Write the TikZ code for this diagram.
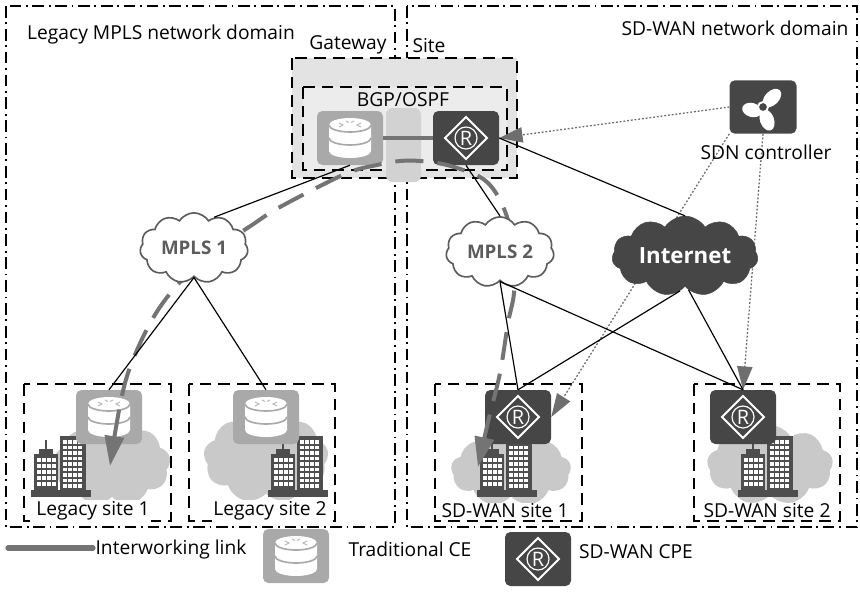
\documentclass[tikz,border=0pt]{standalone}
\usepackage{fontspec}
\setmainfont{Open Sans}
\usetikzlibrary{arrows.meta,shapes.symbols}

\definecolor{cegray}{HTML}{A9A9A9}
\definecolor{cpedark}{HTML}{464646}
\definecolor{linkgray}{HTML}{747474}
\definecolor{sitecloud}{HTML}{C9C9C9}
\definecolor{bldg}{HTML}{4E4E4E}
\definecolor{gwfill}{HTML}{E3E3E3}
\definecolor{gwinner}{HTML}{ECECEC}
\definecolor{mplsline}{HTML}{5C5C5C}
\definecolor{ctrlgray}{HTML}{6E6E6E}

\tikzset{
  % pixel grid: 1 unit = 0.3mm, y grows downwards
  lbl/.style={font=\fontsize{16.4}{19}\selectfont, inner sep=0pt},
  netdomain/.style={draw, line width=1pt, dash pattern=on 10pt off 4pt on 1.5pt off 4pt},
  sitebox/.style={draw, line width=1.1pt, dash pattern=on 10pt off 6pt},
  cebox/.style={fill=cegray, rounded corners=1.6mm, minimum width=19.8mm, minimum height=16.2mm, inner sep=0pt},
  cpebox/.style={fill=cpedark, rounded corners=1.6mm, minimum width=19.8mm, minimum height=16.2mm, inner sep=0pt},
  mpls/.style={cloud, cloud puffs=11, cloud puff arc=115, aspect=1.6, draw=mplsline, line width=1.4pt, fill=white,
    text=mplsline, font=\fontsize{16}{19}\selectfont\bfseries, minimum width=32.4mm, minimum height=20mm, inner sep=0pt},
  inet/.style={cloud, cloud puffs=11, cloud puff arc=115, aspect=2.1, draw=cpedark, fill=cpedark,
    text=white, font=\fontsize{19}{22}\selectfont\bfseries, minimum width=43.8mm, minimum height=20.4mm, inner sep=0pt},
  sitecl/.style={cloud, cloud puffs=9, cloud puff arc=120, fill=sitecloud, inner sep=0pt},
  link/.style={line width=1pt},
  ctrl/.style={draw=ctrlgray, line width=1.1pt, dash pattern=on 1.6pt off 1.6pt, -{Triangle[length=7mm,width=4.6mm]}},
  interwork/.style={draw=linkgray, line width=3.4pt, dash pattern=on 24pt off 12pt,
    {Triangle[length=9mm,width=5.7mm]}-{Triangle[length=9mm,width=5.7mm]}},
  ceglyph/.pic={
    \fill[white] (-21,-13) -- (-21,13) arc[start angle=180, end angle=0, x radius=21, y radius=7]
      -- (21,-13) arc[start angle=0, end angle=-180, x radius=21, y radius=7] -- cycle;
    \draw[cegray, line width=1.4pt] (-21,-13) arc[start angle=180, end angle=0, x radius=21, y radius=7];
    \draw[cegray, line width=1.4pt] (-21,0) arc[start angle=180, end angle=0, x radius=21, y radius=7];
    \draw[cegray!80, line width=0.8pt] (-11,-15) -- (-7,-13) -- (-11,-11) (11,-15) -- (7,-13) -- (11,-11)
      (-4,-17) -- (-1,-15.5) (4,-17) -- (1,-15.5);
  },
  cpeglyph/.pic={
    \draw[white, line width=1.6pt] (0,-21) -- (21,0) -- (0,21) -- (-21,0) -- cycle;
    \draw[white, line width=1pt] (0,0) circle[radius=11];
    \node[white, font=\fontsize{17}{17}\selectfont, inner sep=0pt] at (0,0.5) {R};
  },
  sdnglyph/.pic={
    \fill[white, rotate around={45:(9,-9)}] (9,-9) ellipse[x radius=11, y radius=7];
    \fill[white, rotate around={-15:(-11,3)}] (-11,3) ellipse[x radius=10, y radius=7];
    \fill[white, rotate around={-70:(4,13)}] (4,13) ellipse[x radius=11, y radius=7];
    \filldraw[fill=cpedark, draw=white, line width=1.6pt] (0,0) circle[radius=5];
  },
  towers/.pic={
    \fill[bldg] (-30,0) rectangle (30,7);
    \fill[bldg] (-27,0) rectangle (-3,-36);
    \fill[bldg] (-22,-36) rectangle (-8,-41);
    \fill[bldg] (-16,-41) rectangle (-14,-50);
    \fill[bldg] (-1,0) rectangle (25,-54);
    \foreach \x in {-24,-19,-14,-9}
      \foreach \y in {-32,-26,-20,-14,-8}
        \fill[white] (\x,\y) rectangle ++(3.5,3.5);
    \foreach \x in {2,7,12,17}
      \foreach \y in {-50,-44.5,...,-6}
        \fill[white] (\x,\y) rectangle ++(3.5,3.5);
  }
}

\begin{document}
\begin{tikzpicture}[x=0.3mm, y=-0.3mm]
\useasboundingbox (0,0) rectangle (860,608);

% network domains
\draw[netdomain] (6,6) rectangle (395,527);
\draw[netdomain] (407,6) rectangle (857,527);
\node[lbl] (legdom) at (161,35) {Legacy MPLS network domain};
\node[lbl] (sddom) at (735,28) {SD-WAN network domain};

% gateway site
\fill[gwfill] (292,58) rectangle (517,178);
\draw[sitebox] (292,58) rectangle (517,178);
\fill[gwinner] (303,87) rectangle (507,170);
\draw[sitebox] (303,87) rectangle (507,170);
\fill[gray!35, rounded corners=2mm] (386,108) rectangle (421,182);
\node[lbl] (gwlbl) at (348,45) {Gateway};
\node[lbl] (sitelbl) at (429,46) {Site};
\node[lbl] (bgp) at (403,100) {BGP/OSPF};
\node[cebox] (gwce) at (350,138) {};
\pic at (gwce) {ceglyph};
\node[cpebox] (gwcpe) at (466,138) {};
\pic at (gwcpe) {cpeglyph};
\draw[line width=3.4pt, linkgray] (gwce.east) -- (gwcpe.west);

% sites
\draw[sitebox] (24,384) rectangle (171,521);
\draw[sitebox] (189,384) rectangle (335,521);
\draw[sitebox] (435,384) rectangle (582,521);
\draw[sitebox] (694,384) rectangle (840,521);
\node[sitecl, minimum width=35.1mm, minimum height=25mm] (cl1) at (112,464) {};
\node[sitecl, minimum width=37.5mm, minimum height=27mm] (cl2) at (266,458) {};
\node[sitecl, minimum width=36mm, minimum height=21.6mm] (cl3) at (511,470) {};
\node[sitecl, minimum width=37.8mm, minimum height=24mm] (cl4) at (770,465) {};
\pic at (61,490) {towers};
\pic at (298,490) {towers};
\pic at (507,490) {towers};
\pic at (768,490) {towers};
\node[cebox] (ce1) at (109,417) {};
\pic at (ce1) {ceglyph};
\node[cebox] (ce2) at (266,417) {};
\pic at (ce2) {ceglyph};
\node[cpebox] (cpe1) at (518,417) {};
\pic at (cpe1) {cpeglyph};
\node[cpebox] (cpe2) at (743,417) {};
\pic at (cpe2) {cpeglyph};
\node[lbl, fill=white, inner sep=1pt] (s1) at (93,511) {Legacy site 1};
\node[lbl, fill=white, inner sep=1pt] (s2) at (270,511) {Legacy site 2};
\node[lbl, fill=white, inner sep=1pt] (s3) at (505,511) {SD-WAN site 1};
\node[lbl, fill=white, inner sep=1pt] (s4) at (767,511) {SD-WAN site 2};

% controller
\node[cpebox, minimum width=20.1mm, minimum height=16mm] (sdn) at (763,107) {};
\pic at (sdn) {sdnglyph};
\draw[ctrl] (sdn.west) -- (gwcpe.east);
\draw[ctrl] (sdn.south west) -- (cpe1.east);
\draw[ctrl] (sdn.south) -- (cpe2.north);
\node[lbl] (sdnlbl) at (766,152) {SDN controller};

% interworking path
\draw[interwork] plot[smooth, tension=0.55] coordinates {(110,466) (119,410) (128,373) (143,337) (160,307)
  (182,280) (215,250) (252,225) (280,207) (345,174) (377,165) (400,161) (420,161) (447,165) (480,177)
  (496,193) (508,220) (514,255) (514,293) (508,323) (500,373) (488,422) (478,467)};

% WAN clouds
\node[mpls] (mpls1) at (194,248) {MPLS 1};
\node[mpls] (mpls2) at (500,252) {MPLS 2};
\node[inet] (inet) at (685,256) {Internet};

\draw[link] (gwce.south) -- (mpls1.57);
\draw[link] (gwcpe.south) -- (mpls2.north);
\draw[link] (gwcpe.east) -- (inet.north);
\draw[link] (mpls1.south) -- (ce1.north);
\draw[link] (mpls1.south) -- (ce2.north);
\draw[link] (mpls2.south) -- (cpe1.north);
\draw[link] (mpls2.south) -- (cpe2.north);
\draw[link] (inet.262) -- (cpe1.north);
\draw[link] (inet.276) -- (cpe2.north);

% legend
\coordinate (keya) at (8,548);
\coordinate (keyb) at (93,548);
\draw[line width=4.5pt, linkgray, line cap=round] (keya) -- (keyb);
\node[lbl] (keylink) at (171,549) {Interworking link};
\node[cebox] (keyce) at (296,556) {};
\pic at (keyce) {ceglyph};
\node[lbl] (keycelbl) at (410,549) {Traditional CE};
\node[cpebox] (keycpe) at (538,559) {};
\pic at (keycpe) {cpeglyph};
\node[lbl] (keycpelbl) at (636,552) {SD-WAN CPE};
\end{tikzpicture}
\end{document}
